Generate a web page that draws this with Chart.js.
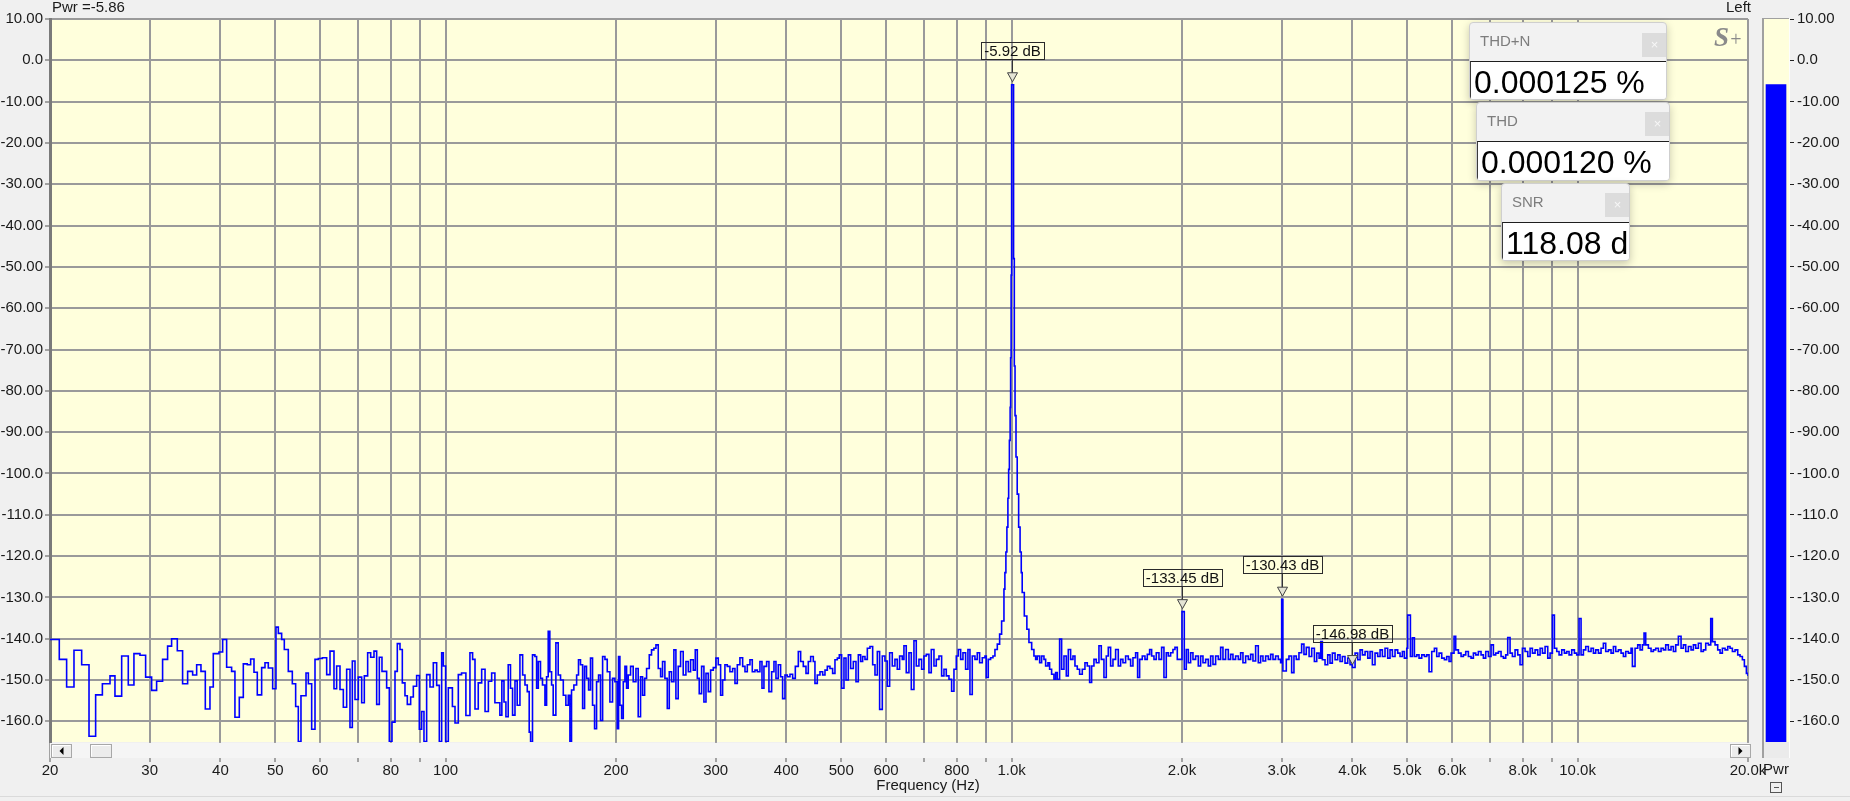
<!DOCTYPE html>
<html>
<head>
<meta charset="utf-8">
<script src="https://cdn.jsdelivr.net/npm/chart.js@4.4.0/dist/chart.umd.min.js"></script>
<style>
  html, body { margin: 0; padding: 0; }
  body { width: 1850px; height: 801px; overflow: hidden; background: #f0f0f0; position: relative;
         font-family: 'Liberation Sans', Arial, sans-serif; color: #1a1a1a; }
  #main { position: absolute; left: 0; top: 0; }
  #meter { position: absolute; left: 1755px; top: 0; }
  .toplabel { position: absolute; top: -2px; font-size: 15px; line-height: 17px; color: #1a1a1a; white-space: nowrap; }
  #xTitle { position: absolute; left: 828px; width: 200px; top: 776px; text-align: center; font-size: 15px; line-height: 17px; color: #1a1a1a; white-space: nowrap; }
  .panel { position: absolute; background: #f2f2f2; border: 1px solid #cfcfcf; border-radius: 4px;
           box-shadow: 0 3px 8px rgba(0,0,0,0.22); overflow: hidden; box-sizing: border-box; }
  .panel .hdr { position: absolute; left: 0; top: 0; right: 0; height: 38px; }
  .panel .hdr span { position: absolute; left: 10px; top: 9px; font-size: 15px; line-height: 18px; color: #7d7d7d; }
  .panel .cls { position: absolute; width: 25px; height: 24px; background: #dcdcdc; color: #f7f7f7;
                font-size: 13px; line-height: 24px; text-align: center; }
  .panel .val { position: absolute; left: 0; right: 0; top: 38px; bottom: 0; background: #ffffff;
                border-top: 1px solid #1e1e1e; border-left: 1px solid #3a3a3a; box-sizing: border-box;
                font-size: 32px; line-height: 36px; padding: 2px 0 0 3px; color: #000; white-space: nowrap; overflow: hidden; }
  #logo { position: absolute; left: 1714px; top: 22px; color: #8a8a8a; font-family: 'Liberation Serif', 'DejaVu Serif', serif; white-space: nowrap; }
  #bottomline { position: absolute; left: 0; top: 796px; width: 1850px; height: 1px; background: #dadada; }
</style>
</head>
<body>
<canvas id="main" width="1850" height="801"></canvas>
<canvas id="meter" width="95" height="801"></canvas>
<div class="toplabel" id="pwrLabel" style="left:52px;"></div>
<div class="toplabel" id="chanLabel" style="left:1726px;">Left</div>
<div id="xTitle"></div>
<div id="logo"><span style="font-style:italic;font-weight:bold;font-size:27px;">S</span><span style="font-style:italic;font-size:20px;">+</span></div>
<div class="panel" style="left:1469px;top:22px;width:198px;height:78px;">
  <div class="hdr"><span>THD+N</span></div><div class="cls" style="left:172px;top:10px;">×</div>
  <div class="val" id="thdnVal"></div>
</div>
<div class="panel" style="left:1476px;top:102px;width:194px;height:79px;">
  <div class="hdr"><span>THD</span></div><div class="cls" style="left:168px;top:9px;">×</div>
  <div class="val" id="thdVal"></div>
</div>
<div class="panel" style="left:1501px;top:183px;width:129px;height:78px;">
  <div class="hdr"><span>SNR</span></div><div class="cls" style="left:103px;top:9px;">×</div>
  <div class="val" id="snrVal"></div>
</div>
<div id="bottomline"></div>
<script>
// ---------------- data ----------------
const pwrValue = -5.86;
const thdnPercent = '0.000125';
const thdPercent = '0.000120';
const snrDb = '118.08';
const xAxisTitle = 'Frequency (Hz)';

const xTickValues = [20,30,40,50,60,70,80,90,100,200,300,400,500,600,700,800,900,1000,2000,3000,4000,5000,6000,7000,8000,9000,10000,20000];
const xTickLabels = ['20','30','40','50','60','','80','','100','200','300','400','500','600','','800','','1.0k','2.0k','3.0k','4.0k','5.0k','6.0k','','8.0k','','10.0k','20.0k'];
const yTickValues = [10,0,-10,-20,-30,-40,-50,-60,-70,-80,-90,-100,-110,-120,-130,-140,-150,-160];
const yTickLabels = ['10.00','0.0','-10.00','-20.00','-30.00','-40.00','-50.00','-60.00','-70.00','-80.00','-90.00','-100.0','-110.0','-120.0','-130.0','-140.0','-150.0','-160.0'];

const markerFreqs = [1000, 2000, 3000, 4000];
const markerDb = [-5.92, -133.45, -130.43, -146.98];

// spectrum, 20 Hz - 125 Hz
const freqLow = [20.00,20.77,21.40,22.05,22.75,23.44,24.08,24.75,25.53,26.05,26.77,27.50,28.14,28.84,29.51,30.24,30.86,31.62,32.27,32.80,33.57,34.30,35.01,35.73,36.32,36.96,37.62,38.34,38.86,39.77,40.37,41.03,41.87,42.44,43.20,43.91,44.63,45.24,45.86,46.48,47.31,47.96,48.61,49.48,50.15,50.63,51.32,51.88,52.73,53.60,54.33,54.92,55.52,56.67,57.21,57.99,58.78,59.58,60.56,61.64,62.48,63.50,64.19,65.07,65.96,66.86,67.77,68.42,69.17,70.11,71.07,71.84,72.82,73.72,74.72,75.54,76.36,77.19,78.67,79.53,80.40,81.39,82.16,83.06,83.85,84.76,85.57,86.74,87.69,88.88,89.85,90.71,91.57,92.57,93.84,95.12,96.42,97.47,98.40,99.07,100.0,101.1,102.8,103.9,105.3,106.7,108.6,110.4,111.6,112.7,114.2,115.8,117.4,119.0,120.6,122.2];
const dbLow = [-140.2,-145.0,-151.7,-142.8,-146.3,-163.6,-153.6,-150.9,-149.0,-153.9,-144.2,-151.2,-143.6,-144.0,-149.3,-152.5,-150.3,-145.0,-141.8,-140.0,-142.9,-150.9,-147.9,-148.8,-146.3,-147.9,-157.0,-151.7,-143.6,-143.2,-140.2,-146.9,-147.9,-159.0,-154.2,-146.1,-146.3,-144.9,-148.1,-153.6,-147.0,-145.8,-147.1,-152.1,-137.2,-138.7,-140.2,-142.6,-147.9,-150.9,-156.4,-164.9,-153.8,-148.3,-150.9,-161.9,-145.0,-144.8,-144.6,-148.7,-143.0,-152.1,-146.6,-152.3,-156.6,-147.4,-161.5,-145.4,-154.7,-149.3,-155.5,-149.0,-143.4,-144.5,-143.0,-155.9,-144.5,-147.9,-151.9,-164.9,-160.2,-147.9,-141.2,-142.6,-150.7,-153.8,-155.9,-154.1,-151.5,-148.9,-161.9,-157.6,-164.9,-148.7,-151.7,-145.8,-151.3,-164.9,-143.4,-146.6,-164.9,-151.9,-156.4,-160.4,-148.7,-148.3,-158.6,-143.4,-145.0,-157.0,-150.7,-147.4,-157.6,-150.3,-148.3,-155.5];

// spectrum, 125 Hz - 580 Hz
const freqMid = [124.7,125.7,126.8,127.8,129.0,130.2,131.3,132.6,133.8,135.3,136.8,138.1,139.4,140.5,141.3,142.4,143.8,144.8,145.8,147.1,148.3,149.8,150.8,151.8,152.8,153.9,154.9,156.6,158.1,159.6,161.4,163.1,164.7,165.8,166.9,168.5,170.4,171.7,173.1,174.6,176.0,177.4,178.9,180.3,181.8,183.3,184.8,186.3,187.8,189.4,191.2,193.0,195.1,197.2,199.1,201.0,202.1,203.2,204.6,206.0,207.4,208.8,210.2,212.2,214.5,216.9,218.9,221.0,222.8,224.7,226.5,229.0,231.1,233.3,235.3,237.5,239.8,241.7,244.0,246.4,248.4,250.7,253.1,255.2,257.6,260.1,262.9,265.8,268.4,270.9,273.9,276.1,278.4,280.6,283.3,286.0,288.4,291.1,293.9,297.1,300.3,303.2,306.1,308.6,311.5,314.5,317.9,321.4,324.5,327.6,331.1,334.8,338.0,341.2,344.9,348.2,352.0,355.4,359.2,362.2,365.1,369.1,372.6,376.7,380.3,383.4,387.0,390.7,393.9,397.7,401.5,405.9,410.3,414.8,419.9,423.9,428.5,433.2,437.3,441.5,446.3,449.3,453.6,458.6,463.6,468.0,472.5,477.6,482.8,487.4,492.1,496.1,500.8,505.6,509.8,514.6,519.5,525.2,530.9,536.0,541.1,545.5,550.7,556.0,562.0,568.2,573.6,579.1];
const dbMid = [-158.5,-150.2,-155.3,-158.9,-146.3,-152.0,-158.5,-150.2,-156.1,-143.9,-148.8,-151.2,-152.8,-162.6,-165.0,-143.9,-144.3,-152.0,-145.5,-149.6,-151.2,-156.1,-149.2,-138.2,-148.0,-151.2,-158.5,-141.0,-148.8,-150.0,-153.7,-156.1,-153.7,-165.0,-152.4,-151.2,-148.8,-145.1,-146.3,-156.9,-146.7,-149.6,-152.4,-144.7,-156.1,-161.8,-150.4,-148.8,-159.8,-144.3,-145.0,-148.0,-155.3,-149.6,-150.4,-161.8,-144.3,-156.1,-159.3,-150.4,-146.7,-152.0,-148.8,-146.7,-150.4,-147.2,-158.9,-149.2,-153.7,-149.6,-147.2,-143.9,-142.7,-142.3,-141.5,-147.2,-149.2,-145.5,-149.6,-156.9,-148.0,-150.4,-142.7,-154.5,-146.7,-143.1,-148.8,-145.5,-148.0,-145.1,-147.6,-142.7,-149.6,-153.3,-146.7,-155.3,-148.4,-152.8,-147.6,-147.0,-144.7,-146.3,-153.7,-150.0,-146.3,-146.7,-148.0,-147.2,-150.8,-146.3,-144.6,-146.7,-148.0,-146.3,-145.1,-148.0,-147.6,-148.0,-145.5,-152.0,-146.7,-145.5,-152.8,-148.0,-145.5,-149.6,-146.3,-149.2,-154.5,-148.8,-149.2,-148.6,-149.6,-146.7,-143.1,-145.5,-146.7,-148.4,-145.5,-144.3,-145.5,-150.8,-148.8,-148.0,-148.8,-147.6,-146.7,-147.2,-148.4,-145.1,-144.7,-143.9,-152.0,-144.7,-150.0,-143.9,-147.2,-145.5,-150.4,-143.9,-145.5,-144.3,-145.0,-142.3,-141.9,-146.3,-148.8,-143.1];

// spectrum, 580 Hz - 960 Hz
const freqPre = [584.5,590.9,597.3,603.0,608.8,615.4,622.1,628.0,634.0,640.9,645.3,651.4,658.6,664.9,672.1,678.5,685.9,693.4,700.0,706.7,714.4,721.2,729.1,736.0,744.1,752.2,759.4,766.6,775.0,783.4,790.9,798.4,805.0,812.7,820.4,829.3,837.2,844.1,852.1,861.4,869.6,877.9,887.5,897.2,902.1,909.4,918.1,926.9,934.4,943.4,952.4,960.1];
const dbPre = [-157.1,-144.2,-145.4,-151.5,-143.4,-146.6,-145.0,-147.4,-144.2,-145.0,-141.7,-148.2,-143.4,-152.3,-140.5,-146.6,-145.0,-147.4,-144.2,-143.8,-148.2,-142.6,-146.6,-145.0,-144.2,-149.0,-147.4,-149.0,-149.8,-152.7,-147.4,-144.2,-142.6,-145.0,-143.4,-147.4,-142.6,-153.5,-144.2,-145.0,-143.4,-145.8,-144.6,-144.2,-149.4,-145.0,-144.6,-144.2,-142.6,-141.3,-138.9,-135.7];

// 1 kHz fundamental
const freqPeak = [969.3,973,977,981,985,988,991,994,996,998,1000,1008,1011,1014,1018,1023,1029,1035,1040,1044,1053,1064,1073,1085,1095];
const dbPeak = [-128.0,-124,-119,-113,-106,-99,-92,-84,-72,-52,-5.92,-48,-74,-86,-96,-105,-113,-119,-124,-128.8,-134.5,-137.7,-140.9,-142.6,-144.2];

// spectrum, 1.1 kHz - 3.3 kHz
const freqPost = [1102.6,1110.1,1120.7,1129.8,1140.6,1148.4,1159.3,1167.2,1176.7,1187.9,1196.0,1204.2,1215.6,1225.6,1237.3,1249.1,1259.3,1271.3,1283.4,1293.9,1306.2,1318.7,1333.1,1347.6,1360.5,1373.4,1384.7,1397.9,1411.2,1426.6,1440.2,1455.9,1469.8,1481.8,1495.9,1510.2,1526.7,1543.3,1558.0,1572.9,1590.0,1607.4,1622.7,1638.2,1656.1,1669.6,1683.3,1701.6,1720.2,1736.6,1753.2,1767.5,1784.4,1801.3,1821.0,1840.8,1858.4,1876.1,1891.5,1909.5,1927.7,1943.5,1962.0,1980.7,2000,2018.7,2035.2,2051.8,2071.4,2091.2,2114.0,2137.1,2157.5,2178.1,2201.8,2225.8,2247.0,2268.5,2293.2,2318.2,2340.3,2362.6,2388.4,2414.5,2437.5,2460.7,2487.6,2514.7,2538.7,2562.9,2590.9,2619.1,2644.1,2669.3,2698.4,2727.9,2753.9,2780.2,2810.5,2841.2,2868.3,2895.6,2927.2,2959.1,2987.3,3000,3015,3057.0,3090.3,3124.0,3153.8,3183.9,3218.6,3253.7,3284.7,3316.0];
const dbPost = [-145.0,-144.2,-145.8,-144.2,-145.0,-146.6,-145.8,-147.4,-148.6,-149.8,-148.2,-149.8,-140.1,-147.4,-144.2,-149.0,-142.6,-145.0,-144.2,-146.6,-147.4,-148.6,-147.4,-145.8,-146.6,-150.6,-146.6,-145.0,-145.8,-141.7,-145.0,-149.4,-144.2,-142.1,-146.6,-145.0,-142.6,-146.6,-145.0,-145.8,-144.2,-145.0,-146.6,-144.6,-143.4,-149.4,-145.0,-144.2,-145.0,-143.8,-142.6,-144.2,-145.0,-143.4,-145.0,-142.1,-149.4,-143.4,-144.2,-143.4,-142.6,-142.1,-145.0,-145.0,-133.45,-147.4,-142.6,-145.8,-143.4,-145.0,-144.2,-146.6,-144.2,-145.8,-145.0,-146.6,-144.2,-146.2,-144.2,-145.0,-142.1,-145.0,-142.6,-145.0,-143.8,-145.0,-144.2,-145.0,-143.4,-145.8,-144.2,-145.0,-143.8,-145.4,-141.7,-145.8,-144.2,-145.4,-144.2,-145.0,-143.8,-145.0,-144.2,-145.0,-145.8,-130.43,-147.8,-145.0,-144.2,-148.2,-144.2,-145.0,-143.4,-141.3,-143.8,-142.1];

// spectrum, 3.3 kHz - 20 kHz
const freqHigh = [3354,3390,3427,3460,3493,3517,3540,3579,3618,3652,3687,3728,3768,3804,3840,3882,3925,3962,4000,4044,4088,4127,4166,4212,4258,4298,4339,4386,4434,4477,4519,4568,4618,4662,4707,4758,4810,4856,4902,4942,4990,5010,5065,5106,5148,5197,5246,5304,5362,5413,5464,5524,5584,5637,5691,5753,5816,5871,5927,5976,6049,6090,6157,6224,6283,6343,6412,6482,6544,6606,6678,6751,6816,6881,6956,7032,7099,7166,7245,7324,7394,7464,7525,7597,7669,7753,7838,7912,7988,8075,8164,8242,8320,8411,8502,8584,8666,8760,8856,8940,9025,9099,9186,9273,9374,9476,9567,9658,9763,9870,9964,10059,10141,10238,10336,10448,10562,10663,10764,10882,11000,11105,11211,11334,11457,11567,11677,11804,11933,12047,12162,12294,12428,12496,12632,12770,12892,13015,13103,13192,13336,13482,13610,13740,13890,14042,14175,14310,14466,14624,14764,14905,15067,15232,15377,15524,15693,15864,16015,16168,16344,16523,16680,16840,17023,17186,17302,17491,17682,17851,18021,18218,18416,18592,18769,18974,19181,19364,19549,19708,19869,20000];
const dbHigh = [-144.3,-142.3,-145.5,-143.5,-144.7,-140.7,-145.1,-146.3,-143.9,-145.9,-143.5,-145.1,-143.9,-145.5,-144.3,-145.9,-144.7,-146.3,-146.98,-143.5,-145.1,-142.7,-143.9,-143.1,-144.7,-143.1,-146.3,-143.5,-144.3,-142.7,-144.3,-142.3,-144.7,-142.7,-144.3,-142.7,-143.5,-144.3,-143.1,-144.7,-142.3,-134.3,-144.3,-139.8,-144.3,-143.9,-144.7,-143.9,-144.3,-143.9,-148.0,-143.1,-142.3,-144.3,-143.5,-144.7,-145.1,-144.3,-145.5,-143.5,-139.4,-142.7,-143.5,-144.3,-143.9,-143.1,-144.3,-144.7,-143.5,-143.9,-143.1,-143.9,-144.7,-143.1,-144.3,-141.5,-143.9,-143.5,-143.1,-144.3,-144.7,-143.9,-139.7,-143.5,-144.3,-142.7,-143.9,-146.3,-142.3,-143.1,-144.3,-142.3,-143.5,-142.7,-143.9,-142.3,-143.5,-141.9,-144.7,-143.5,-134.3,-142.3,-143.1,-143.9,-142.7,-143.5,-143.1,-143.9,-142.7,-143.5,-143.9,-135.1,-143.9,-142.7,-141.9,-143.1,-142.3,-143.5,-142.7,-143.5,-142.3,-141.1,-143.1,-142.7,-143.5,-141.9,-143.1,-142.7,-143.5,-144.3,-143.1,-143.5,-142.3,-146.7,-142.3,-141.5,-142.7,-141.5,-138.6,-141.5,-142.3,-143.1,-142.7,-142.3,-143.1,-142.3,-142.7,-141.5,-142.7,-141.9,-143.1,-141.5,-139.4,-142.3,-141.5,-143.1,-141.9,-142.7,-141.5,-142.3,-141.1,-143.1,-142.7,-141.1,-141.5,-135.1,-140.7,-141.5,-142.7,-143.5,-142.3,-142.7,-141.9,-142.3,-143.1,-142.7,-143.9,-144.3,-145.1,-146.7,-148.4,-149.0];

const yMin = -165, yMax = 10;

// ---------------- build ----------------
function pairs(fs, ds) { return fs.map((f, i) => ({ x: f, y: ds[i] })); }
const spectrum = [].concat(
  pairs(freqLow, dbLow), pairs(freqMid, dbMid), pairs(freqPre, dbPre),
  pairs(freqPeak, dbPeak), pairs(freqPost, dbPost), pairs(freqHigh, dbHigh)
);

document.getElementById('pwrLabel').textContent = 'Pwr =' + pwrValue.toFixed(2);
document.getElementById('thdnVal').textContent = thdnPercent + ' %';
document.getElementById('thdVal').textContent = thdPercent + ' %';
document.getElementById('snrVal').textContent = snrDb + ' dB';
document.getElementById('xTitle').textContent = xAxisTitle;

const FONT = { family: "'Liberation Sans', Arial, sans-serif", size: 15 };
const TXT = '#1a1a1a';
const PLOT_BG = '#ffffdc';
const GRID = '#9a9a9a';

const bgPlugin = {
  id: 'bg',
  beforeDraw(chart) {
    const { ctx, chartArea: a } = chart;
    ctx.save();
    ctx.fillStyle = PLOT_BG;
    ctx.fillRect(a.left, a.top, a.right - a.left, a.bottom - a.top);
    ctx.restore();
  }
};

function button(ctx, x, y, w, h, dir) {
  ctx.fillStyle = '#ececec';
  ctx.fillRect(x, y, w, h);
  ctx.strokeStyle = '#a8a8a8';
  ctx.lineWidth = 1;
  ctx.strokeRect(x + 0.5, y + 0.5, w - 1, h - 1);
  ctx.strokeStyle = '#ffffff';
  ctx.beginPath(); ctx.moveTo(x + 1.5, y + h - 1.5); ctx.lineTo(x + 1.5, y + 1.5); ctx.lineTo(x + w - 1.5, y + 1.5); ctx.stroke();
  if (dir) {
    const cx = x + w / 2, cy = y + h / 2;
    ctx.fillStyle = '#000';
    ctx.beginPath();
    if (dir < 0) { ctx.moveTo(cx - 2, cy); ctx.lineTo(cx + 2, cy - 4); ctx.lineTo(cx + 2, cy + 4); }
    else { ctx.moveTo(cx + 2, cy); ctx.lineTo(cx - 2, cy - 4); ctx.lineTo(cx - 2, cy + 4); }
    ctx.closePath(); ctx.fill();
  }
}

const overlayPlugin = {
  id: 'overlay',
  afterDraw(chart) {
    const { ctx, chartArea: a } = chart;
    const xs = chart.scales.x, ys = chart.scales.y;
    ctx.save();
    // scroll band under the plot
    ctx.fillStyle = '#f5f5f5';
    ctx.fillRect(a.left, a.bottom + 1, a.right - a.left + 2, 15);
    button(ctx, a.left + 1, a.bottom + 2, 21, 14, -1);
    button(ctx, a.left + 40, a.bottom + 2, 22, 14, 0);
    button(ctx, a.right - 18, a.bottom + 2, 21, 14, 1);
    // markers
    ctx.font = "15px 'Liberation Sans', Arial, sans-serif";
    ctx.textAlign = 'center';
    ctx.textBaseline = 'middle';
    markerFreqs.forEach((f, i) => {
      const x = Math.round(xs.getPixelForValue(f)) + 0.5;
      const y = ys.getPixelForValue(markerDb[i]);
      const label = markerDb[i].toFixed(2) + ' dB';
      const w = ctx.measureText(label).width + 6;
      const boxTop = Math.round(y - 43) + 0.5, boxH = 17;
      ctx.strokeStyle = '#333';
      ctx.lineWidth = 1;
      ctx.beginPath(); ctx.moveTo(x, boxTop + boxH); ctx.lineTo(x, y - 12); ctx.stroke();
      ctx.beginPath();
      ctx.moveTo(x - 5, y - 12); ctx.lineTo(x + 5, y - 12); ctx.lineTo(x, y - 3); ctx.closePath();
      ctx.fillStyle = '#e4e4d4'; ctx.fill();
      ctx.strokeStyle = '#444'; ctx.stroke();
      const bx = Math.round(x - w / 2) + 0.5;
      ctx.strokeStyle = '#2a2a2a';
      ctx.strokeRect(bx, boxTop, Math.round(w), boxH);
      ctx.fillStyle = '#111';
      ctx.fillText(label, x, boxTop + boxH / 2 + 1);
    });
    ctx.restore();
  }
};

new Chart(document.getElementById('main'), {
  type: 'line',
  data: {
    datasets: [{
      data: spectrum,
      borderColor: '#0000ff',
      borderWidth: 1.6,
      stepped: true,
      pointRadius: 0,
      fill: false
    }]
  },
  options: {
    responsive: false,
    animation: false,
    events: [],
    layout: { padding: { top: 19, right: 102, bottom: 0, left: 0 } },
    plugins: { legend: { display: false }, tooltip: { enabled: false } },
    scales: {
      x: {
        type: 'logarithmic', min: 20, max: 20000,
        afterBuildTicks: (s) => { s.ticks = xTickValues.map(v => ({ value: v })); },
        afterFit: (s) => { s.height = 59; },
        ticks: { autoSkip: false, maxRotation: 0, minRotation: 0, padding: 0, color: TXT, font: FONT,
                 callback: (v, i) => xTickLabels[i] },
        grid: { color: GRID, lineWidth: 2, tickLength: 20, tickColor: '#555', tickWidth: 1 },
        border: { display: false },
        title: { display: false }
      },
      y: {
        min: yMin, max: yMax,
        afterBuildTicks: (s) => { s.ticks = yTickValues.map(v => ({ value: v })); },
        afterFit: (s) => { s.width = 50; },
        ticks: { padding: 2, color: TXT, font: FONT, callback: (v, i) => yTickLabels[i] },
        grid: { color: GRID, lineWidth: 2, tickLength: 5, tickColor: '#555', tickWidth: 1 },
        border: { display: true, color: '#7a7a7a', width: 3 }
      }
    }
  },
  plugins: [bgPlugin, overlayPlugin]
});

// level meter on the right
const meterPlugin = {
  id: 'meterbg',
  beforeDraw(chart) {
    const { ctx, chartArea: a } = chart;
    ctx.save();
    ctx.fillStyle = PLOT_BG;
    ctx.fillRect(a.left, a.top - 1, a.right - a.left, a.bottom - a.top + 1);
    ctx.fillStyle = '#ebebeb';
    ctx.fillRect(a.left, a.bottom, a.right - a.left, 16);
    ctx.fillStyle = '#a0a0a0';
    ctx.fillRect(a.left, a.top - 1, 2, a.bottom - a.top + 17);
    ctx.fillRect(a.left, a.top - 1, a.right - a.left, 1);
    ctx.fillStyle = '#fdfdfd';
    ctx.fillRect(a.right - 1, a.top - 1, 1, a.bottom - a.top + 17);
    ctx.restore();
  },
  afterDraw(chart) {
    const { ctx, chartArea: a } = chart;
    ctx.save();
    const cx = Math.round((a.left + a.right) / 2);
    ctx.strokeStyle = '#555'; ctx.lineWidth = 1;
    ctx.strokeRect(cx - 5.5, 782.5, 11, 10);
    ctx.beginPath(); ctx.moveTo(cx - 2, 787.5); ctx.lineTo(cx + 3, 787.5); ctx.stroke();
    ctx.restore();
  }
};

new Chart(document.getElementById('meter'), {
  type: 'bar',
  data: { labels: [''], datasets: [{ data: [[yMin, pwrValue]], backgroundColor: '#0000ff', borderWidth: 0, barThickness: 20 }] },
  options: {
    responsive: false,
    animation: false,
    events: [],
    layout: { padding: { top: 19, left: 7, right: 0, bottom: 0 } },
    plugins: { legend: { display: false }, tooltip: { enabled: false } },
    scales: {
      x: {
        grid: { display: false }, border: { display: false }, ticks: { display: false },
        afterFit: (s) => { s.height = 59; },
        title: { display: true, text: 'Pwr', color: TXT, font: FONT, padding: { top: 0, bottom: 22 } }
      },
      y: {
        position: 'right', min: yMin, max: yMax,
        afterBuildTicks: (s) => { s.ticks = yTickValues.map(v => ({ value: v })); },
        afterFit: (s) => { s.width = 60; },
        ticks: { padding: 3, color: TXT, font: FONT, callback: (v, i) => yTickLabels[i] },
        grid: { drawOnChartArea: false, tickLength: 4, tickColor: '#222', tickWidth: 1 },
        border: { display: false }
      }
    }
  },
  plugins: [meterPlugin]
});
</script>
</body>
</html>
